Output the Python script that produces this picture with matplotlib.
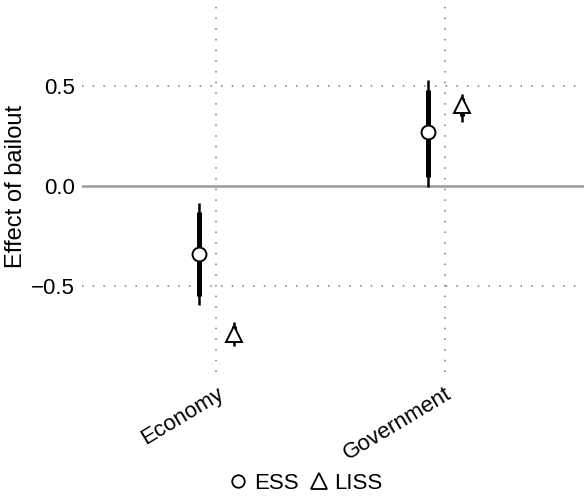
import matplotlib.pyplot as plt
import numpy as np

plt.rcParams['font.family'] = ['Liberation Sans', 'DejaVu Sans']

categories = ['Economy', 'Government']
surveys = ['ESS', 'LISS']
markers = ['o', '^']

# estimate, thick interval (lo, hi), thin interval (lo, hi)
ess_est = [-0.342, 0.268]
ess_thick_lo = [-0.55, 0.045]
ess_thick_hi = [-0.13, 0.48]
ess_thin_lo = [-0.595, -0.003]
ess_thin_hi = [-0.083, 0.53]

liss_est = [-0.74, 0.405]
liss_thick_lo = [-0.78, 0.35]
liss_thick_hi = [-0.70, 0.44]
liss_thin_lo = [-0.80, 0.32]
liss_thin_hi = [-0.68, 0.46]

fig = plt.figure(figsize=(5.84, 4.98), dpi=100)
ax = fig.add_axes([0.14, 0.253, 0.86, 0.747])

x = np.arange(1, len(categories) + 1)
offset = 0.075
dots = (0, (1, 6))

ax.axhline(0, color='#999999', lw=1.8, zorder=1)
for yv in [-0.5, 0.5]:
    ax.axhline(yv, color='#777777', lw=1.1, ls=dots, zorder=1)
for xv in x:
    ax.axvline(xv, color='#777777', lw=1.1, ls=dots, zorder=1)

series = [
    (ess_est, ess_thick_lo, ess_thick_hi, ess_thin_lo, ess_thin_hi, -offset, 'o', 10),
    (liss_est, liss_thick_lo, liss_thick_hi, liss_thin_lo, liss_thin_hi, offset, '^', 12),
]
for est, tlo, thi, nlo, nhi, off, mk, ms in series:
    xs = x + off
    ax.vlines(xs, nlo, nhi, color='black', lw=1.8, zorder=2)
    ax.vlines(xs, tlo, thi, color='black', lw=3.6, zorder=3)
    ax.plot(xs, est, ls='none', marker=mk, ms=ms, mfc='white', mec='black',
            mew=1.4, zorder=4)

ax.set_xlim(0.41, 2.61)
ax.set_ylim(-0.93, 0.93)
ax.set_yticks([-0.5, 0.0, 0.5])
ax.set_yticklabels(['\u22120.5', '0.0', '0.5'])
ax.set_xticks(x)
ax.set_xticklabels(categories, rotation=31, ha='right', rotation_mode='anchor')
ax.tick_params(axis='both', length=0, labelsize=16, colors='black')
ax.tick_params(axis='x', pad=8)
ax.tick_params(axis='y', pad=5)
for s in ax.spines.values():
    s.set_visible(False)
ax.set_ylabel('Effect of bailout', fontsize=17, labelpad=3)

handles = [plt.Line2D([], [], ls='none', marker=m, ms=s, mfc='white', mec='black',
                      mew=1.3) for m, s in zip(markers, [9, 11])]
fig.legend(handles, surveys, loc='lower center', bbox_to_anchor=(0.52, -0.032),
           ncol=2, frameon=False, fontsize=16, handletextpad=0.1,
           columnspacing=0.3, handlelength=1.2)

fig.savefig('out.png', dpi=100)
